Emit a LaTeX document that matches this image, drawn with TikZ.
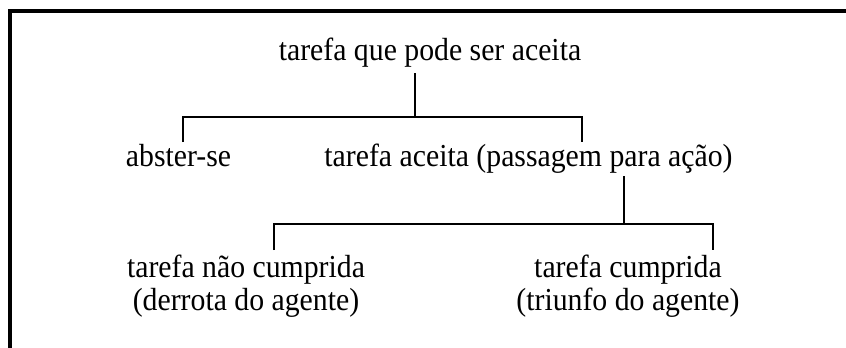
\documentclass[tikz,border=0pt]{standalone}
\usepackage{fontspec}
\setmainfont{Liberation Serif}[FakeStretch=0.93]
\definecolor{inkblack}{RGB}{0,0,0}
\definecolor{paperwhite}{RGB}{255,255,255}

\begin{document}
\begin{tikzpicture}[x=1pt, y=-1pt,
    label text/.style={font=\fontsize{32}{33}\selectfont, inner sep=0pt, anchor=base, align=center, text=inkblack},
    branch/.style={draw=inkblack, line width=2.2pt}]

    % 1. Page frame (only left and top rules are visible)
    \useasboundingbox[fill=paperwhite] (0,0) rectangle (846,348);
    \draw[color=inkblack, line width=3.5pt] (10,348) -- (10,11) -- (846,11);

    % 2. Tree labels (two-line nodes sit on their last baseline)
    \node[label text] (root)    at (430,60)    {tarefa que pode ser aceita};
    \node[label text] (abster)  at (178.5,166) {abster-se};
    \node[label text] (aceita)  at (528.5,166) {tarefa aceita (passagem para ação)};
    \node[label text] (falha)   at (246,310)   {tarefa não cumprida\\(derrota do agente)};
    \node[label text] (sucesso) at (628,310)   {tarefa cumprida\\(triunfo do agente)};

    % 3. Branch points and leg ends
    \coordinate (fork1) at (415,117);
    \coordinate (legA)  at (183,142);
    \coordinate (legB)  at (582,142);
    \coordinate (fork2) at (624,224);
    \coordinate (legC)  at (274,250);
    \coordinate (legD)  at (713,250);

    % 4. Brackets
    \draw[branch] (root.south -| fork1) ++(0,6) -- (fork1);
    \draw[branch] (legA) |- (fork1) -| (legB);
    \draw[branch] (aceita.south -| fork2) ++(0,3) -- (fork2);
    \draw[branch] (legC) |- (fork2) -| (legD);

\end{tikzpicture}
\end{document}
